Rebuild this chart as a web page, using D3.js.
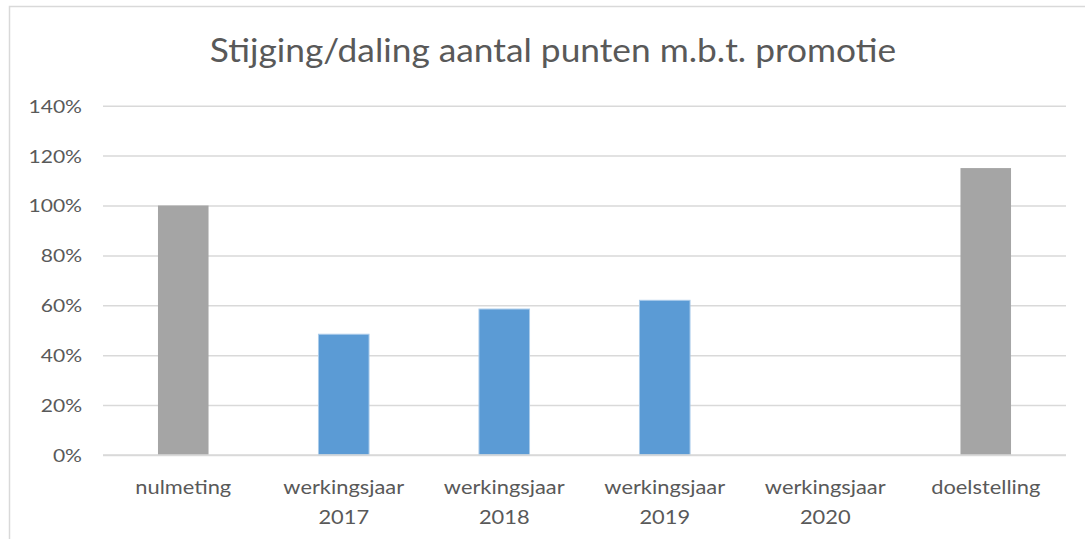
<!DOCTYPE html>
<html><head><meta charset="utf-8">
<script src="https://cdn.jsdelivr.net/npm/d3@7"></script>
<style>html,body{margin:0;padding:0;background:#fff;overflow:hidden}</style>
</head><body>
<svg id="chart" width="1085" height="539"></svg>
<script>
const title = "Stijging/daling aantal punten m.b.t. promotie";
const categories = ["nulmeting", "werkingsjaar 2017", "werkingsjaar 2018", "werkingsjaar 2019", "werkingsjaar 2020", "doelstelling"];
const categoryLines = [["nulmeting"], ["werkingsjaar", "2017"], ["werkingsjaar", "2018"], ["werkingsjaar", "2019"], ["werkingsjaar", "2020"], ["doelstelling"]];
const values = [100, 48.4, 58.5, 62.0, null, 115.0];
const barColors = ["#A5A5A5", "#5B9BD5", "#5B9BD5", "#5B9BD5", "#5B9BD5", "#A5A5A5"];
const yTicks = [0, 20, 40, 60, 80, 100, 120, 140];

const svg = d3.select("#chart");
const font = "Lato, 'Open Sans', sans-serif";
const textColor = "#595959";

// outer border
svg.append("rect").attr("x", 9.5).attr("y", 6.5).attr("width", 1100).attr("height", 600)
  .attr("fill", "none").attr("stroke", "#D9D9D9").attr("stroke-width", 1.5);

const x = d3.scaleBand().domain(categories).range([103, 1066]).paddingInner(0).paddingOuter(0);
const y = d3.scaleLinear().domain([0, 140]).range([455, 105.7]);
const barW = x.bandwidth() * 0.315;

// title
svg.append("g").attr("transform", "translate(553,62) scale(1.07,1)")
  .append("text").attr("x", 0).attr("y", 0).attr("text-anchor", "middle")
  .attr("font-family", font).attr("font-size", 33).attr("font-weight", 400).attr("fill", textColor)
  .text(title);

// gridlines + tick labels
const yAxis = d3.axisLeft(y).tickValues(yTicks).tickSize(-(1066 - 103)).tickFormat(d => d + "%");
const gy = svg.append("g").attr("transform", "translate(103,0)").call(yAxis);
gy.select(".domain").remove();
gy.selectAll(".tick line").attr("stroke", "#D9D9D9").attr("stroke-width", 1.5);
gy.selectAll(".tick text").attr("x", 0).attr("dy", "0.36em")
  .attr("transform", "translate(-21,0) scale(1.17,1)")
  .attr("font-family", font).attr("font-size", 18).attr("fill", textColor);

// bars
const data = categories.map((c, i) => ({c, v: values[i], col: barColors[i]})).filter(d => d.v != null);
svg.append("g").selectAll("rect").data(data).join("rect")
  .attr("x", d => x(d.c) + (x.bandwidth() - barW) / 2)
  .attr("y", d => y(d.v))
  .attr("width", barW)
  .attr("height", d => y(0) - y(d.v))
  .attr("fill", d => d.col)
  .attr("stroke", d => d.col === "#5B9BD5" ? "#A9CBEA" : "none")
  .attr("stroke-width", 1);

// x axis line
svg.append("line").attr("x1", 103).attr("x2", 1066).attr("y1", y(0)).attr("y2", y(0))
  .attr("stroke", "#D9D9D9").attr("stroke-width", 1.5);

// category labels
const gx = svg.append("g");
categories.forEach((c, i) => {
  const cx = x(c) + x.bandwidth() / 2;
  const t = gx.append("g").attr("transform", `translate(${cx},494) scale(1.15,1)`)
    .append("text").attr("x", 0).attr("y", 0)
    .attr("text-anchor", "middle").attr("font-family", font).attr("font-size", 19).attr("fill", textColor);
  categoryLines[i].forEach((ln, j) => {
    t.append("tspan").attr("x", 0).attr("dy", j === 0 ? 0 : 30).text(ln);
  });
});
</script>
</body></html>
